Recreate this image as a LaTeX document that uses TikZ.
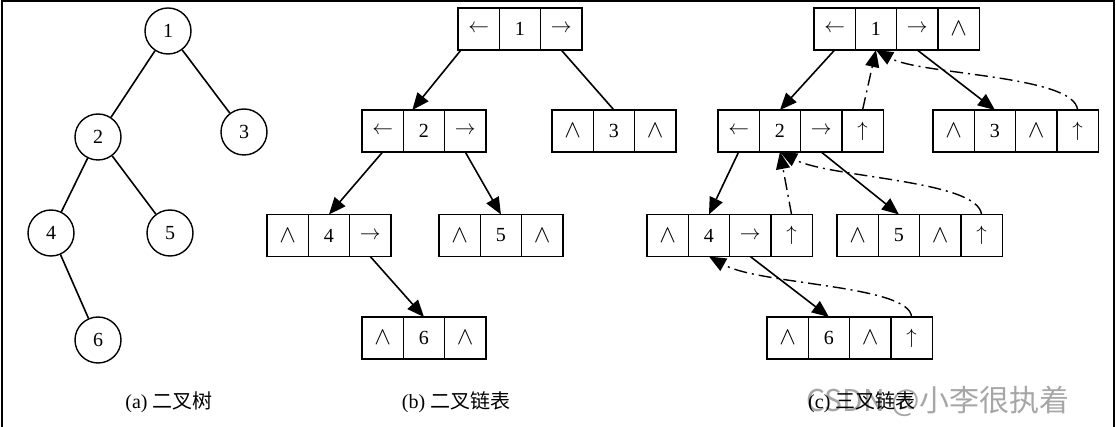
\documentclass[tikz,border=0pt]{standalone}
\usepackage{fontspec}
\setmainfont{Liberation Serif}
\newfontfamily\cjk{Noto Sans CJK SC}
\usetikzlibrary{arrows.meta,positioning}
\newcommand\cellrow[4]{%
  \foreach \t [count=\i] in {#4} {\node[cell,anchor=west] (#1-\i) at ({#2+(\i-1)*41.3},#3) {\t};}}
\newcommand\nilsym{{\fontsize{27}{28}\selectfont$\wedge$}}
\newcommand\lsym{{\fontsize{21}{24}\selectfont$\leftarrow$}}
\newcommand\rsym{{\fontsize{21}{24}\selectfont$\rightarrow$}}
\newcommand\usym{{\fontsize{20}{24}\selectfont$\uparrow$}}
\begin{document}
\begin{tikzpicture}[x=1pt,y=-1pt,
  cell/.style={draw,line width=1.4pt,minimum width=41.3pt,minimum height=42pt,inner sep=0pt,outer sep=0pt,font=\fontsize{20}{22}\selectfont},
  tnode/.style={draw,circle,line width=1.4pt,minimum size=46pt,inner sep=0pt,font=\fontsize{20}{22}\selectfont},
  edge/.style={line width=1.6pt},
  ptr/.style={line width=1.6pt,-{Triangle[length=17pt,width=14pt]}},
  parptr/.style={line width=1.4pt,dash pattern=on 13pt off 5pt on 2pt off 5pt,-{Triangle[length=17pt,width=14pt]}},
  captext/.style={font=\fontsize{20}{22}\selectfont}]
\useasboundingbox (0,0) rectangle (1116,427);
\draw[line width=2pt] (1.5,427) -- (1.5,1.5) -- (1113.5,1.5) -- (1113.5,427);

% (a) binary tree
\node[tnode] (t1) at (168,31) {1};
\node[tnode] (t2) at (98,137) {2};
\node[tnode] (t3) at (244,132) {3};
\node[tnode] (t4) at (51,233) {4};
\node[tnode] (t5) at (170,233) {5};
\node[tnode] (t6) at (98,340) {6};
\draw[edge] (t1) -- (t2);
\draw[edge] (t1) -- (t3);
\draw[edge] (t2) -- (t4);
\draw[edge] (t2) -- (t5);
\draw[edge] (t4) -- (t6);

% (b) binary linked list
\cellrow{b1}{458}{29}{\lsym,1,\rsym}
\cellrow{b2}{362}{131}{\lsym,2,\rsym}
\cellrow{b3}{552}{131}{\nilsym,3,\nilsym}
\cellrow{b4}{267}{235.5}{\nilsym,4,\rsym}
\cellrow{b5}{439}{235.5}{\nilsym,5,\nilsym}
\cellrow{b6}{362}{338}{\nilsym,6,\nilsym}
\draw[ptr] ([xshift=3pt]b1-1.south west) -- ([xshift=9pt]b2-2.north west);
\draw[edge] (b1-3.south) -- (b3-2.north);
\draw[ptr] (b2-1.south) -- (b4-2.north);
\draw[ptr] (b2-3.south) -- (b5-2.north);
\draw[ptr] (b4-3.south) -- (b6-2.north);

% (c) trinary linked list
\cellrow{c1}{814}{29}{\lsym,1,\rsym,\nilsym}
\cellrow{c2}{718}{131}{\lsym,2,\rsym,\usym}
\cellrow{c3}{933}{131}{\nilsym,3,\nilsym,\usym}
\cellrow{c4}{647}{235.5}{\nilsym,4,\rsym,\usym}
\cellrow{c5}{837}{235.5}{\nilsym,5,\nilsym,\usym}
\cellrow{c6}{767}{338}{\nilsym,6,\nilsym,\usym}
\draw[ptr] (c1-1.south) -- (c2-2.north);
\draw[ptr] (c1-3.south) -- (c3-2.north);
\draw[parptr] (c2-4.north) -- (c1-2.south);
\draw[parptr] (c3-4.north) .. controls (1075,75) and (920,75) .. (c1-2.south);
\draw[ptr] (c2-1.south) -- (c4-2.north);
\draw[ptr] (c2-3.south) -- (c5-2.north);
\draw[parptr] (c4-4.north) -- (c2-2.south);
\draw[parptr] (c5-4.north) .. controls (978,180) and (830,178) .. (c2-2.south);
\draw[ptr] (c4-3.south) -- (c6-2.north);
\draw[parptr] (c6-4.north) .. controls (910,285) and (760,285) .. (c4-2.south);

% captions
\node[captext] (capa) at (169,402) {(a)\ {\cjk 二叉树}};
\node[captext] (capb) at (456,402) {(b)\ {\cjk 二叉链表}};
\node[font=\cjk\fontsize{30}{34}\selectfont,text=black!35,anchor=west,inner sep=0pt] (wm) at (806,401) {CSDN @小李很执着};
\node[captext,anchor=west,inner sep=0pt] (capc) at (808,402) {(c)\ {\cjk 三叉链表}};
\end{tikzpicture}
\end{document}
